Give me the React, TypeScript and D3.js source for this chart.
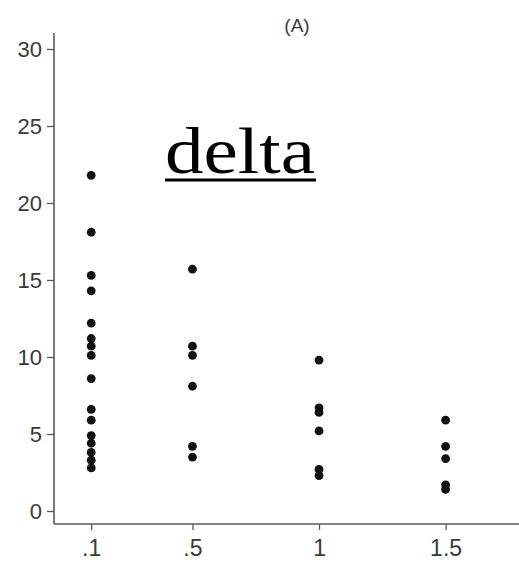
import React, { useRef, useEffect } from 'react';
import * as d3 from 'd3';

// doses on the x axis and their printed labels
const doses = [0.1, 0.5, 1, 1.5];
const doseLabels = ['.1', '.5', '1', '1.5'];
const yTicks = [0, 5, 10, 15, 20, 25, 30];

// measured values per dose
const dose01 = [21.8, 18.1, 15.3, 14.3, 12.2, 11.2, 10.7, 10.1, 8.6, 6.6, 5.9, 4.9, 4.4, 3.8, 3.3, 2.8];
const dose05 = [15.7, 10.7, 10.1, 8.1, 4.2, 3.5];
const dose10 = [9.8, 6.7, 6.4, 5.2, 2.7, 2.3];
const dose15 = [5.9, 4.2, 3.4, 1.7, 1.4];

const series = [dose01, dose05, dose10, dose15];

const W = 519, H = 570;

const App = () => {
  const ref = useRef<SVGGElement>(null);

  useEffect(() => {
    const g = d3.select(ref.current);
    g.selectAll('*').remove();

    const x = d3.scaleLinear().domain([-0.047, 1.79]).range([54, 519]);
    const y = d3.scaleLinear().domain([0, 30]).range([511, 49]);
    const axisColor = '#5a5a5a';
    const font = 'Liberation Sans, Arial, sans-serif';

    // axes
    const yAxis = g.append('g').attr('transform', 'translate(54,0)')
      .call(d3.axisLeft(y).tickValues(yTicks).tickSize(7).tickPadding(5).tickFormat(d3.format('d')));
    yAxis.select('.domain').remove();
    yAxis.selectAll('line').attr('stroke', axisColor).attr('stroke-width', 1.3);
    yAxis.selectAll('text').attr('fill', '#3a3a3a').style('font-size', '22px').style('font-family', font);

    const xAxis = g.append('g').attr('transform', 'translate(0,524)')
      .call(d3.axisBottom(x).tickValues(doses).tickSize(6).tickPadding(10)
        .tickFormat((d, i) => doseLabels[i]));
    xAxis.select('.domain').remove();
    xAxis.selectAll('line').attr('stroke', axisColor).attr('stroke-width', 1.3);
    xAxis.selectAll('text').attr('fill', '#3a3a3a').style('font-size', '23px').style('font-family', font);

    g.append('line').attr('x1', 54).attr('x2', 54).attr('y1', 33).attr('y2', 524)
      .attr('stroke', axisColor).attr('stroke-width', 1.6);
    g.append('line').attr('x1', 54).attr('x2', 519).attr('y1', 524).attr('y2', 524)
      .attr('stroke', axisColor).attr('stroke-width', 1.6);

    // points
    series.forEach((vals, i) => {
      g.append('g').selectAll('circle').data(vals).enter()
        .append('circle')
        .attr('cx', x(doses[i]))
        .attr('cy', d => y(d))
        .attr('r', 4.4)
        .attr('fill', '#111');
    });

    // title
    g.append('text').attr('x', 297).attr('y', 32).attr('text-anchor', 'middle')
      .style('font-size', '19px').style('font-family', font).attr('fill', '#3a3a3a').text('(A)');
  }, []);

  return (
    <svg width={W} height={H} style={{ position: 'absolute', left: 0, top: 0, background: '#fff' }}>
      <g ref={ref} />
      <text x={165} y={173} textLength={150} lengthAdjust="spacingAndGlyphs"
        style={{ fontFamily: 'Liberation Serif, serif', fontSize: 66, fill: '#000' }}>delta</text>
      <line x1={165} x2={316} y1={180} y2={180} stroke="#000" strokeWidth={3} />
    </svg>
  );
};

export default App;
